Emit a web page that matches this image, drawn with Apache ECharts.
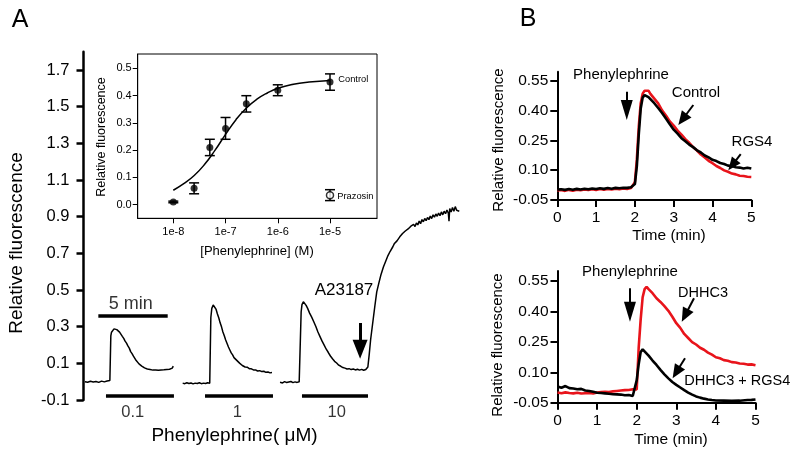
<!DOCTYPE html>
<html><head><meta charset="utf-8">
<script src="https://cdn.jsdelivr.net/npm/echarts@6/dist/echarts.min.js"></script>
<style>html,body{margin:0;padding:0;background:#fff}#c{width:800px;height:458px}</style>
</head><body><div id="c"></div>
<script>
const FONT = '"Liberation Sans", Arial, Helvetica, sans-serif';
const RED = '#e8141b';

// ---------- Panel A main traces: [time (min), relative fluorescence] ----------
const traceA_01 = [[0.1,0.000],[0.3,-0.003],[0.5,0.002],[0.7,-0.002],[0.9,0.001],[1.1,-0.004],[1.3,0.003],[1.5,-0.001],[1.7,0.004],[1.9,0.006],[1.96,0.01],[1.97,0.25],[2.02,0.27],[2.1,0.276],[2.2,0.288],[2.3,0.291],[2.4,0.284],[2.5,0.281],[2.6,0.27],[2.7,0.263],[2.8,0.247],[2.9,0.236],[3.0,0.221],[3.1,0.21],[3.2,0.195],[3.3,0.183],[3.4,0.164],[3.5,0.153],[3.6,0.139],[3.7,0.129],[3.8,0.115],[3.9,0.107],[4.0,0.097],[4.1,0.091],[4.2,0.085],[4.3,0.08],[4.4,0.075],[4.5,0.073],[4.6,0.069],[4.7,0.069],[4.8,0.066],[4.9,0.068],[5.0,0.063],[5.1,0.066],[5.2,0.064],[5.3,0.067],[5.4,0.062],[5.5,0.066],[5.6,0.064],[5.7,0.068],[5.8,0.065],[5.9,0.069],[6.0,0.067],[6.1,0.07],[6.2,0.068],[6.3,0.072],[6.4,0.074],[6.47,0.085]];
const traceA_1 = [[7.15,-0.008],[7.3,-0.011],[7.45,-0.006],[7.6,-0.01],[7.75,-0.007],[7.9,-0.012],[8.05,-0.008],[8.2,-0.01],[8.35,-0.006],[8.5,-0.011],[8.65,-0.008],[8.8,-0.01],[8.95,-0.006],[9.1,-0.009],[9.16,-0.005],[9.18,0.35],[9.25,0.4],[9.35,0.418],[9.45,0.41],[9.55,0.396],[9.65,0.371],[9.75,0.349],[9.85,0.321],[9.95,0.299],[10.05,0.271],[10.15,0.251],[10.25,0.227],[10.35,0.208],[10.45,0.189],[10.55,0.173],[10.65,0.157],[10.75,0.146],[10.85,0.131],[10.95,0.125],[11.05,0.116],[11.15,0.109],[11.25,0.101],[11.35,0.097],[11.45,0.088],[11.55,0.086],[11.65,0.08],[11.8,0.079],[11.95,0.071],[12.1,0.07],[12.25,0.064],[12.4,0.064],[12.55,0.058],[12.7,0.06],[12.85,0.055],[13.0,0.057],[13.15,0.051],[13.3,0.053],[13.45,0.048],[13.59,0.05]];
const traceA_10 = [[14.17,-0.003],[14.35,-0.007],[14.5,0.0],[14.65,-0.005],[14.8,-0.002],[14.95,0.001],[15.1,-0.005],[15.25,-0.001],[15.4,-0.004],[15.55,0.0],[15.67,-0.002],[15.69,0.38],[15.75,0.42],[15.85,0.436],[15.95,0.43],[16.05,0.416],[16.15,0.401],[16.3,0.374],[16.45,0.352],[16.6,0.327],[16.75,0.301],[16.9,0.271],[17.05,0.246],[17.2,0.221],[17.35,0.199],[17.5,0.177],[17.65,0.159],[17.8,0.14],[17.95,0.125],[18.1,0.111],[18.25,0.102],[18.4,0.09],[18.55,0.084],[18.7,0.077],[18.85,0.074],[19.0,0.069],[19.15,0.071],[19.3,0.066],[19.45,0.069],[19.6,0.064],[19.75,0.068],[19.9,0.063],[20.05,0.067],[20.2,0.062],[20.35,0.066],[20.45,0.063],[20.5,0.08],[20.6,0.15],[20.7,0.23],[20.8,0.29],[20.9,0.35],[21.0,0.41],[21.14,0.49],[21.3,0.54],[21.45,0.585],[21.62,0.625],[21.8,0.66],[21.95,0.688],[22.1,0.71],[22.3,0.736],[22.4,0.752],[22.5,0.762],[22.6,0.768],[22.7,0.776],[22.8,0.79],[22.9,0.786],[23.0,0.808],[23.1,0.799],[23.2,0.822],[23.3,0.812],[23.4,0.833],[23.5,0.826],[23.6,0.848],[23.7,0.838],[23.8,0.858],[23.9,0.846],[24.0,0.866],[24.1,0.855],[24.2,0.876],[24.3,0.862],[24.4,0.884],[24.5,0.872],[24.6,0.89],[24.7,0.878],[24.8,0.896],[24.9,0.884],[25.0,0.903],[25.1,0.89],[25.2,0.91],[25.3,0.897],[25.4,0.915],[25.5,0.902],[25.6,0.92],[25.7,0.905],[25.8,0.926],[25.9,0.91],[26.0,0.93],[26.1,0.916],[26.2,0.936],[26.3,0.92],[26.35,0.875],[26.4,0.945],[26.5,0.925],[26.6,0.95],[26.7,0.93],[26.8,0.955],[26.9,0.935],[27.0,0.945],[27.09,0.93]];
const yTicksA = [-0.1,0.1,0.3,0.5,0.7,0.9,1.1,1.3,1.5,1.7];
const doseLabels = ['0.1','1','10'];
const doseLabelX = [3.55, 11.09, 18.26];
const doseBarStart = [1.62, 8.76, 15.75];
const doseBarEnd = [6.52, 13.66, 20.51];
const doseBarLevel = -0.078;
const scaleBarMin = [1.07, 6.07];
const scaleBarLabelX = 3.41;
const scaleBarLevel = 0.358;
const a23187Arrow = [[19.94, 0.32], [19.94, 0.177]];

// ---------- Panel A inset: dose response ----------
const doseConcM = [1e-8, 2.5e-8, 5e-8, 1e-7, 2.5e-7, 1e-6, 1e-5];
const doseResp = [0.01, 0.06, 0.21, 0.28, 0.37, 0.42, 0.45];
const doseErr = [0.003, 0.02, 0.03, 0.04, 0.03, 0.02, 0.03];
const prazConcM = [1e-5];
const prazResp = [0.035];
const prazErr = [0.02];
const fitLogConc = [-8.0,-7.8,-7.6,-7.4,-7.2,-7.0,-6.8,-6.6,-6.4,-6.2,-6.0,-5.7,-5.4,-5.0];
const fitResp = [0.053,0.077,0.107,0.148,0.2,0.258,0.312,0.355,0.387,0.41,0.427,0.442,0.45,0.456];
const insetXTicks = [-8,-7,-6,-5];
const insetYTicks = [0,0.1,0.2,0.3,0.4,0.5];

// ---------- Panel B traces: [time (min), relative fluorescence] ----------
const bTopControl = [[0,-0.002],[0.1,0.0],[0.2,-0.004],[0.3,0.001],[0.4,-0.003],[0.5,0.002],[0.6,-0.001],[0.7,0.003],[0.8,0.0],[0.9,0.004],[1.0,0.001],[1.1,0.005],[1.2,0.002],[1.3,0.006],[1.4,0.003],[1.5,0.007],[1.6,0.004],[1.7,0.008],[1.8,0.006],[1.9,0.01],[1.95,0.014],[2.0,0.04],[2.05,0.153],[2.1,0.32],[2.15,0.437],[2.2,0.485],[2.25,0.5],[2.3,0.495],[2.35,0.5],[2.4,0.484],[2.45,0.478],[2.5,0.46],[2.6,0.436],[2.7,0.401],[2.8,0.375],[2.9,0.345],[3.0,0.324],[3.1,0.299],[3.2,0.279],[3.3,0.256],[3.4,0.238],[3.5,0.216],[3.6,0.199],[3.7,0.179],[3.8,0.164],[3.9,0.147],[4.0,0.135],[4.1,0.121],[4.2,0.111],[4.3,0.099],[4.4,0.092],[4.5,0.083],[4.6,0.079],[4.7,0.072],[4.8,0.071],[4.9,0.067],[5.0,0.066]];
const bTopRGS4 = [[0,0.002],[0.1,0.004],[0.2,0.001],[0.3,0.005],[0.4,0.002],[0.5,0.006],[0.6,0.003],[0.7,0.007],[0.8,0.004],[0.9,0.008],[1.0,0.005],[1.1,0.009],[1.2,0.006],[1.3,0.01],[1.4,0.007],[1.5,0.011],[1.6,0.009],[1.7,0.012],[1.8,0.011],[1.9,0.014],[1.95,0.016],[2.0,0.03],[2.05,0.12],[2.1,0.28],[2.15,0.41],[2.2,0.465],[2.25,0.478],[2.3,0.472],[2.35,0.468],[2.4,0.461],[2.5,0.437],[2.6,0.413],[2.7,0.388],[2.8,0.36],[2.9,0.331],[3.0,0.304],[3.1,0.284],[3.2,0.261],[3.3,0.246],[3.4,0.229],[3.5,0.216],[3.6,0.2],[3.7,0.189],[3.8,0.174],[3.9,0.164],[4.0,0.152],[4.1,0.146],[4.2,0.136],[4.3,0.131],[4.4,0.123],[4.5,0.121],[4.6,0.115],[4.7,0.113],[4.8,0.108],[4.9,0.112],[5.0,0.108]];
const bBotDHHC3 = [[0,0.0],[0.1,-0.003],[0.2,0.001],[0.3,-0.002],[0.4,-0.004],[0.5,-0.001],[0.6,-0.005],[0.7,-0.003],[0.8,-0.002],[0.9,-0.004],[1.0,0.0],[1.1,0.002],[1.2,0.004],[1.3,0.003],[1.4,0.006],[1.5,0.008],[1.6,0.01],[1.7,0.012],[1.8,0.013],[1.9,0.016],[2.0,0.015],[2.05,0.22],[2.1,0.36],[2.15,0.47],[2.2,0.51],[2.25,0.522],[2.3,0.51],[2.35,0.5],[2.4,0.49],[2.5,0.465],[2.6,0.447],[2.7,0.426],[2.8,0.403],[2.9,0.374],[3.0,0.342],[3.1,0.319],[3.2,0.289],[3.3,0.269],[3.4,0.249],[3.5,0.237],[3.6,0.221],[3.7,0.211],[3.8,0.197],[3.9,0.187],[4.0,0.174],[4.1,0.169],[4.2,0.16],[4.3,0.157],[4.4,0.15],[4.5,0.148],[4.6,0.143],[4.7,0.142],[4.8,0.138],[4.9,0.139],[5.0,0.135]];
const bBotDHHC3RGS4 = [[0,0.03],[0.1,0.024],[0.2,0.032],[0.3,0.022],[0.4,0.02],[0.5,0.016],[0.6,0.018],[0.7,0.01],[0.8,0.008],[0.9,0.004],[1.0,-0.001],[1.1,-0.002],[1.2,-0.004],[1.3,-0.006],[1.4,-0.008],[1.5,-0.009],[1.6,-0.01],[1.7,-0.013],[1.8,-0.012],[1.9,-0.017],[1.95,-0.01],[2.0,0.06],[2.05,0.14],[2.1,0.2],[2.15,0.213],[2.2,0.205],[2.3,0.182],[2.4,0.158],[2.5,0.136],[2.6,0.112],[2.7,0.09],[2.8,0.07],[2.9,0.052],[3.0,0.038],[3.1,0.025],[3.2,0.012],[3.3,0.0],[3.4,-0.01],[3.5,-0.019],[3.6,-0.025],[3.7,-0.03],[3.8,-0.034],[3.9,-0.037],[4.0,-0.039],[4.2,-0.04],[4.4,-0.041],[4.6,-0.04],[4.8,-0.037],[4.9,-0.036],[5.0,-0.034]];
const bYTicks = [-0.05,0.10,0.25,0.40,0.55];
const bTopArrows = [ {from:[1.79,0.495], to:[1.79,0.403], size:[12,20]}, {from:[3.505,0.428], to:[3.227,0.355], size:[12,14]}, {from:[4.727,0.181], to:[4.51,0.126], size:[11,13]} ];
const bBotArrows = [ {from:[1.83,0.514], to:[1.83,0.399], size:[12,20]}, {from:[3.447,0.465], to:[3.22,0.38], size:[12,14]}, {from:[3.22,0.169], to:[3.0,0.10], size:[12,14]} ];

function arrowMarkLine(list, width) {
  return {
    silent: true, animation: false,
    symbol: ['none','triangle'],
    label: {show: false},
    lineStyle: {color: '#000', width: width, type: 'solid'},
    itemStyle: {color: '#000'},
    emphasis: {disabled: true},
    data: list.map(a => [{coord: a.from, symbol: 'none'}, {coord: a.to, symbol: 'triangle', symbolSize: a.size}])
  };
}

const black = {color: '#000'};
function txt(text, x, y, size, opts) {
  return Object.assign({type:'text', x:x, y:y, silent:true,
    style:{text:text, fontSize:size, fontFamily:FONT, fill:'#000', align:'center', verticalAlign:'middle'}}, opts||{});
}

const grids = [
  {left:83.5, top:51.7, width:388.4, height:348.3, outerBoundsMode:'none'},
  {left:137.7, top:54, width:239.3, height:164.3, show:true, borderColor:'#000', borderWidth:1, backgroundColor:'transparent', outerBoundsMode:'none'},
  {left:557.3, top:71.8, width:194, height:128.2, outerBoundsMode:'none'},
  {left:557.5, top:270.9, width:198, height:131.8, outerBoundsMode:'none'}
];

const bX = (gi) => ({gridIndex:gi, type:'value', min:0, max:5, interval:1,
  axisLine:{onZero:false, lineStyle:{color:'#000', width:2}},
  axisTick:{length:7, lineStyle:{color:'#000', width:2}},
  axisLabel:{color:'#000', fontSize:15.5, fontFamily:FONT, margin:10},
  splitLine:{show:false}});
const bY = (gi, max) => ({gridIndex:gi, type:'value', min:-0.05, max:max,
  axisLine:{onZero:false, lineStyle:{color:'#000', width:2}},
  axisTick:{length:7, lineStyle:{color:'#000', width:2}, customValues:bYTicks},
  axisLabel:{color:'#000', fontSize:15.5, fontFamily:FONT, margin:9, customValues:bYTicks, formatter:v=>v.toFixed(2)},
  splitLine:{show:false}});

const series = [];
// main A traces
[traceA_01, traceA_1, traceA_10].forEach((d, i) => {
  const s = {type:'line', xAxisIndex:0, yAxisIndex:0, data:d, showSymbol:false, symbol:'none',
    lineStyle:{color:'#000', width:1.5}, itemStyle:black, animation:false, silent:true};
  if (i === 2) s.markLine = arrowMarkLine([{from:a23187Arrow[0], to:a23187Arrow[1], size:[15,19]}], 3);
  series.push(s);
});
// dose bars
doseBarStart.forEach((x0, i) => {
  series.push({type:'line', xAxisIndex:0, yAxisIndex:0, data:[[x0, doseBarLevel],[doseBarEnd[i], doseBarLevel]],
    symbol:'none', lineStyle:{color:'#000', width:3.5}, animation:false, silent:true});
});
// dose labels
series.push({type:'scatter', xAxisIndex:0, yAxisIndex:0, data:doseLabelX.map(x=>[x, doseBarLevel]),
  symbolSize:1, itemStyle:{color:'transparent'}, silent:true, animation:false,
  label:{show:true, position:'bottom', distance:7, color:'#000', fontSize:16.5, fontFamily:FONT, formatter:p=>doseLabels[p.dataIndex]}});
// 5 min scale bar
series.push({type:'line', xAxisIndex:0, yAxisIndex:0, data:[[scaleBarMin[0], scaleBarLevel],[scaleBarMin[1], scaleBarLevel]],
  symbol:'none', lineStyle:{color:'#000', width:3.5}, animation:false, silent:true});
series.push({type:'scatter', xAxisIndex:0, yAxisIndex:0, data:[[scaleBarLabelX, scaleBarLevel]],
  symbolSize:1, itemStyle:{color:'transparent'}, silent:true, animation:false,
  label:{show:true, position:'top', distance:3, color:'#000', fontSize:18, fontFamily:FONT, formatter:'5 min'}});

// inset
function errSeries(conc, resp, err) {
  return {type:'custom', xAxisIndex:1, yAxisIndex:1, silent:true, animation:false,
    data: conc.map((c,i)=>[Math.log10(c), resp[i], err[i]]),
    encode:{x:0, y:1},
    renderItem:(params, api) => {
      const x = api.value(0), y = api.value(1), e = api.value(2);
      const t = api.coord([x, y+e]), b = api.coord([x, y-e]);
      const hw = 5, st = {stroke:'#000', lineWidth:1.5};
      return {type:'group', children:[
        {type:'line', shape:{x1:t[0], y1:t[1], x2:b[0], y2:b[1]}, style:st},
        {type:'line', shape:{x1:t[0]-hw, y1:t[1], x2:t[0]+hw, y2:t[1]}, style:st},
        {type:'line', shape:{x1:b[0]-hw, y1:b[1], x2:b[0]+hw, y2:b[1]}, style:st}
      ]};
    }};
}
series.push({type:'line', xAxisIndex:1, yAxisIndex:1, smooth:true, symbol:'none', silent:true, animation:false,
  data: fitLogConc.map((x,i)=>[x, fitResp[i]]), lineStyle:{color:'#000', width:1.5}});
series.push(errSeries(doseConcM, doseResp, doseErr));
series.push(errSeries(prazConcM, prazResp, prazErr));
series.push({type:'scatter', xAxisIndex:1, yAxisIndex:1, silent:true, animation:false, symbol:'circle', symbolSize:7,
  data: doseConcM.map((c,i)=>[Math.log10(c), doseResp[i]]), itemStyle:{color:'#000'}});
series.push({type:'scatter', xAxisIndex:1, yAxisIndex:1, silent:true, animation:false, symbol:'circle', symbolSize:7,
  data: prazConcM.map((c,i)=>[Math.log10(c), prazResp[i]]), itemStyle:{color:'#fff', borderColor:'#000', borderWidth:1.5}, z:5});

// panel B
series.push({type:'line', xAxisIndex:2, yAxisIndex:2, data:bTopControl, symbol:'none', silent:true, animation:false, lineStyle:{color:RED, width:2.6}});
series.push({type:'line', xAxisIndex:2, yAxisIndex:2, data:bTopRGS4, symbol:'none', silent:true, animation:false, lineStyle:{color:'#000', width:2.6},
  markLine: arrowMarkLine(bTopArrows, 2)});
series.push({type:'line', xAxisIndex:3, yAxisIndex:3, data:bBotDHHC3, symbol:'none', silent:true, animation:false, lineStyle:{color:RED, width:2.6}});
series.push({type:'line', xAxisIndex:3, yAxisIndex:3, data:bBotDHHC3RGS4, symbol:'none', silent:true, animation:false, lineStyle:{color:'#000', width:2.6},
  markLine: arrowMarkLine(bBotArrows, 2)});

const option = {
  animation:false,
  backgroundColor:'#fff',
  grid: grids,
  xAxis: [
    {gridIndex:0, type:'value', min:0, max:28, show:false},
    {gridIndex:1, type:'value', min:-8.682, max:-4.1,
      axisLine:{onZero:false, lineStyle:{color:'#000', width:1}},
      axisTick:{length:5, lineStyle:{color:'#000', width:1}, customValues:insetXTicks},
      axisLabel:{color:'#000', fontSize:11, fontFamily:FONT, margin:8, customValues:insetXTicks, formatter:v=>'1e'+Math.round(v)},
      splitLine:{show:false}},
    bX(2), bX(3)
  ],
  yAxis: [
    {gridIndex:0, type:'value', min:-0.1, max:1.8,
      axisLine:{show:true, onZero:false, lineStyle:{color:'#000', width:2.5}},
      axisTick:{show:true, length:7, lineStyle:{color:'#000', width:2.5}, customValues:yTicksA},
      axisLabel:{color:'#000', fontSize:16.5, fontFamily:FONT, margin:14, customValues:yTicksA, formatter:v=>v.toFixed(1)},
      splitLine:{show:false}},
    {gridIndex:1, type:'value', min:-0.05, max:0.553,
      axisLine:{onZero:false, lineStyle:{color:'#000', width:1}},
      axisTick:{length:5, lineStyle:{color:'#000', width:1}, customValues:insetYTicks},
      axisLabel:{color:'#000', fontSize:11, fontFamily:FONT, margin:6, customValues:insetYTicks, formatter:v=>v.toFixed(1)},
      splitLine:{show:false}},
    bY(2, 0.595), bY(3, 0.6)
  ],
  series: series,
  graphic: [
    txt('A', 20, 20, 25),
    txt('B', 528, 19, 25),
    txt('Relative fluorescence', 16.7, 243, 19, {rotation: Math.PI/2}),
    txt('Phenylephrine( \u03bcM)', 234.5, 436, 19),
    txt('A23187', 344, 290, 17),
    txt('Relative fluorescence', 102, 137, 12.5, {rotation: Math.PI/2}),
    txt('[Phenylephrine] (M)', 257, 251.7, 13),
    {type:'text', x:338.3, y:79.3, silent:true, style:{text:'Control', fontSize:9.3, fontFamily:FONT, fill:'#000', align:'left', verticalAlign:'middle'}},
    {type:'text', x:337.3, y:196.7, silent:true, style:{text:'Prazosin', fontSize:9.3, fontFamily:FONT, fill:'#000', align:'left', verticalAlign:'middle'}},
    txt('Relative fluorescence', 499, 140, 15, {rotation: Math.PI/2}),
    txt('Time (min)', 669, 236, 15.5),
    txt('Phenylephrine', 621, 75, 15),
    txt('Control', 696, 92.5, 15),
    txt('RGS4', 752, 142, 15),
    txt('Relative fluorescence', 498, 345, 15, {rotation: Math.PI/2}),
    txt('Time (min)', 671, 440, 15.5),
    txt('Phenylephrine', 630, 272, 15),
    txt('DHHC3', 703, 292.5, 14.5),
    txt('DHHC3 + RGS4', 737.3, 381, 14.5)
  ]
};
const chart = echarts.init(document.getElementById('c'), null, {renderer:'canvas'});
chart.setOption(option);
</script>
</body></html>
